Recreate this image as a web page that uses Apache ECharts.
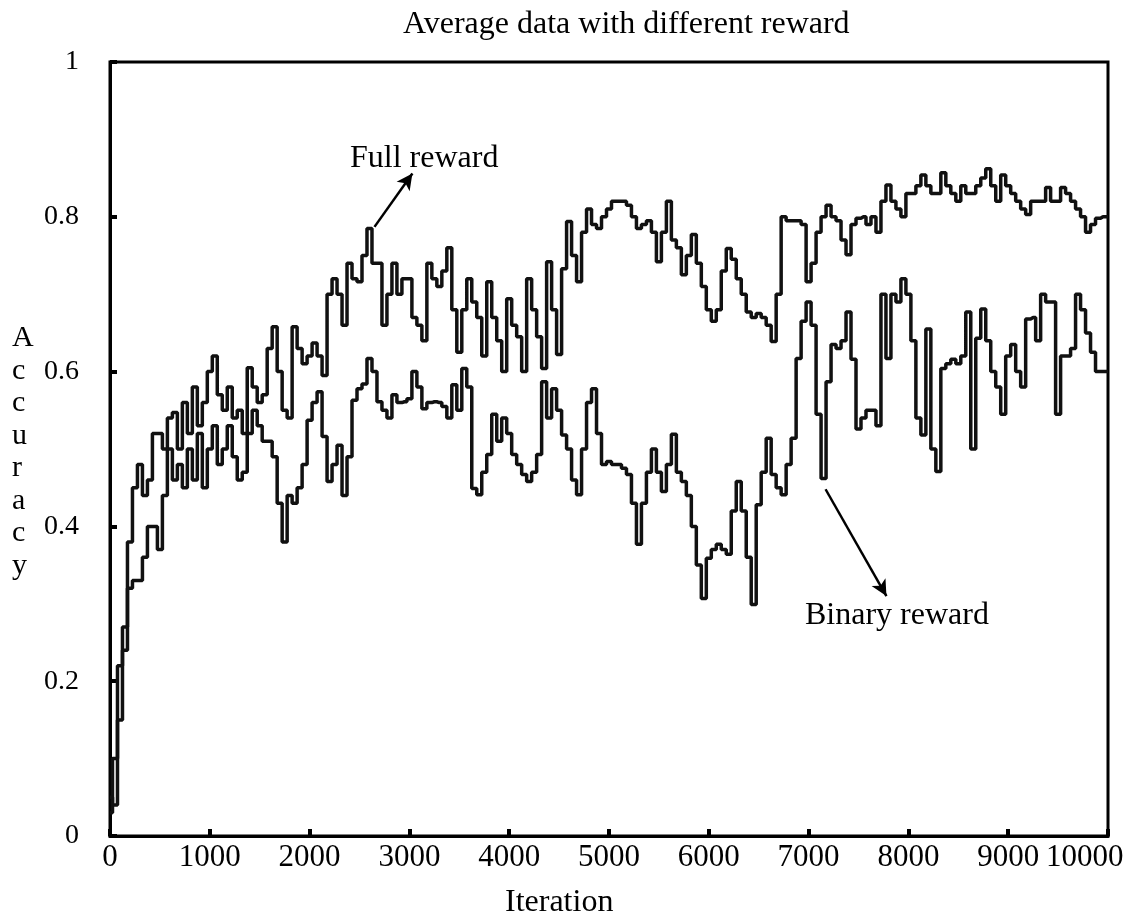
<!DOCTYPE html>
<html>
<head>
<meta charset="utf-8">
<script src="https://cdn.jsdelivr.net/npm/echarts@6/dist/echarts.min.js"></script>
<style>html,body{margin:0;padding:0;background:#fff;}#c{width:1137px;height:922px;}</style>
</head>
<body>
<div id="c"></div>
<script>
// Iterations sampled every 50 steps, 0..10000
const iterStep = 50;
const xTicks = ['0','1000','2000','3000','4000','5000','6000','7000','8000','9000','10000'];
const yTicks = ['0','0.2','0.4','0.6','0.8','1'];

const fullReward = [
 0.03,0.10,0.22,0.27,0.38,0.45,0.48,0.44,0.46,0.52,0.52,0.50,0.54,0.547,0.50,0.56,0.52,0.58,0.53,0.56,
 0.60,0.62,0.57,0.55,0.58,0.54,0.55,0.52,0.605,0.58,0.56,0.57,0.63,0.658,0.60,0.55,0.54,0.658,0.63,0.61,
 0.62,0.637,0.62,0.595,0.70,0.72,0.70,0.66,0.74,0.72,0.716,0.75,0.785,0.74,0.74,0.66,0.70,0.74,0.70,0.72,
 0.72,0.67,0.66,0.64,0.74,0.72,0.71,0.73,0.76,0.68,0.625,0.68,0.72,0.69,0.67,0.62,0.716,0.67,0.64,0.60,
 0.694,0.66,0.645,0.60,0.72,0.68,0.645,0.604,0.742,0.68,0.622,0.733,0.794,0.75,0.716,0.78,0.81,0.79,0.785,0.80,
 0.81,0.82,0.82,0.82,0.815,0.80,0.785,0.79,0.795,0.78,0.742,0.78,0.82,0.77,0.76,0.725,0.75,0.777,0.74,0.71,
 0.68,0.665,0.68,0.73,0.759,0.745,0.72,0.70,0.677,0.67,0.675,0.67,0.66,0.639,0.70,0.80,0.795,0.795,0.795,0.79,
 0.716,0.74,0.78,0.80,0.815,0.80,0.795,0.77,0.751,0.79,0.798,0.80,0.79,0.80,0.78,0.82,0.841,0.82,0.81,0.80,
 0.83,0.83,0.84,0.854,0.84,0.83,0.83,0.857,0.84,0.83,0.82,0.84,0.83,0.83,0.84,0.85,0.862,0.84,0.82,0.854,
 0.84,0.83,0.82,0.81,0.803,0.82,0.82,0.82,0.838,0.82,0.82,0.838,0.83,0.82,0.81,0.80,0.78,0.79,0.798,0.80,
 0.80
];
const binaryReward = [
 0.05,0.04,0.15,0.24,0.32,0.33,0.33,0.36,0.40,0.40,0.37,0.44,0.50,0.46,0.48,0.45,0.50,0.46,0.52,0.45,
 0.50,0.53,0.48,0.50,0.53,0.49,0.46,0.47,0.52,0.55,0.53,0.51,0.51,0.49,0.43,0.38,0.44,0.43,0.45,0.48,
 0.537,0.56,0.574,0.516,0.458,0.48,0.505,0.44,0.49,0.563,0.578,0.584,0.617,0.60,0.561,0.55,0.54,0.57,0.56,0.561,
 0.565,0.60,0.58,0.552,0.56,0.561,0.56,0.555,0.54,0.583,0.55,0.604,0.58,0.449,0.441,0.47,0.493,0.545,0.51,0.54,
 0.52,0.493,0.48,0.467,0.458,0.47,0.493,0.587,0.54,0.578,0.55,0.518,0.50,0.46,0.441,0.50,0.56,0.578,0.52,0.48,
 0.484,0.48,0.48,0.475,0.467,0.43,0.377,0.43,0.47,0.50,0.47,0.445,0.48,0.519,0.47,0.458,0.44,0.40,0.35,0.307,
 0.359,0.37,0.377,0.37,0.364,0.42,0.458,0.42,0.36,0.299,0.428,0.47,0.514,0.467,0.45,0.441,0.48,0.514,0.617,0.665,
 0.69,0.66,0.545,0.462,0.587,0.635,0.63,0.64,0.677,0.616,0.526,0.54,0.55,0.55,0.53,0.70,0.617,0.70,0.69,0.72,
 0.70,0.64,0.54,0.518,0.655,0.50,0.471,0.604,0.61,0.616,0.61,0.62,0.677,0.50,0.643,0.681,0.64,0.60,0.58,0.545,
 0.62,0.635,0.60,0.58,0.668,0.67,0.64,0.70,0.69,0.69,0.545,0.62,0.62,0.63,0.70,0.68,0.65,0.625,0.60,0.60,
 0.60
];
// Annotation arrows in data space: [start, end]
const fullArrow = [[2650, 0.787], [3030, 0.856]];
const binaryArrow = [[7170, 0.448], [7780, 0.31]];

const iterations = fullReward.map((_, i) => i * iterStep);
const fullData = iterations.map((x, i) => [x, fullReward[i]]);
const binData = iterations.map((x, i) => [x, binaryReward[i]]);

const FONT = '"Liberation Serif", "DejaVu Serif", serif';
const chart = echarts.init(document.getElementById('c'));
const arrowML = (a) => ({
  silent: true, symbol: ['none', 'arrow'], symbolSize: [12, 16],
  lineStyle: { color: '#000', width: 2.5, type: 'solid' }, label: { show: false },
  data: [[{ coord: a[0] }, { coord: a[1] }]]
});
chart.setOption({
  animation: false,
  backgroundColor: '#fff',
  title: {
    text: 'Average data with different reward',
    left: 398, top: 4,
    textStyle: { fontFamily: FONT, fontWeight: 'normal', fontSize: 32, color: '#000' }
  },
  grid: { left: 110, right: 29, top: 62, bottom: 86, show: true, borderColor: '#000', borderWidth: 3,
          containLabel: false, outerBoundsMode: 'none' },
  xAxis: {
    type: 'value', min: 0, max: 10000, interval: 1000,
    axisLine: { show: true, lineStyle: { color: '#000', width: 3 } },
    axisTick: { show: true, inside: true, length: 7, lineStyle: { color: '#000', width: 4 } },
    splitLine: { show: false },
    axisLabel: {
      fontFamily: FONT, fontSize: 31, color: '#000', margin: 6,
      showMaxLabel: true, hideOverlap: false,
      formatter: (v) => {
        const i = Math.round(v / 1000);
        return i === xTicks.length - 1 ? xTicks[i] + '      ' : xTicks[i];
      }
    }
  },
  yAxis: {
    type: 'value', min: 0, max: 1, interval: 0.2,
    axisLine: { show: true, lineStyle: { color: '#000', width: 3 } },
    axisTick: { show: true, inside: true, length: 7, lineStyle: { color: '#000', width: 4 } },
    splitLine: { show: false },
    axisLabel: {
      fontFamily: FONT, fontSize: 28, color: '#000', margin: 31,
      formatter: (v) => yTicks[Math.round(v / 0.2)]
    }
  },
  graphic: [
    { type: 'text', left: 12, top: 322,
      style: { text: 'A\nc\nc\nu\nr\na\nc\ny', font: '30px ' + FONT, fill: '#000', lineHeight: 32.5, align: 'center' } },
    { type: 'text', left: 505, top: 887,
      style: { text: 'Iteration', font: '32px ' + FONT, fill: '#000' } },
    { type: 'text', left: 350, top: 143,
      style: { text: 'Full reward', font: '32px ' + FONT, fill: '#000' } },
    { type: 'text', left: 805, top: 600,
      style: { text: 'Binary reward', font: '32px ' + FONT, fill: '#000' } }
  ],
  series: [
    { name: 'Full reward', type: 'line', data: fullData, showSymbol: false, step: 'middle',
      lineStyle: { color: '#111', width: 3.5 }, markLine: arrowML(fullArrow), z: 3 },
    { name: 'Binary reward', type: 'line', data: binData, showSymbol: false, step: 'middle',
      lineStyle: { color: '#111', width: 3.5 }, markLine: arrowML(binaryArrow), z: 3 }
  ]
});
</script>
</body>
</html>
